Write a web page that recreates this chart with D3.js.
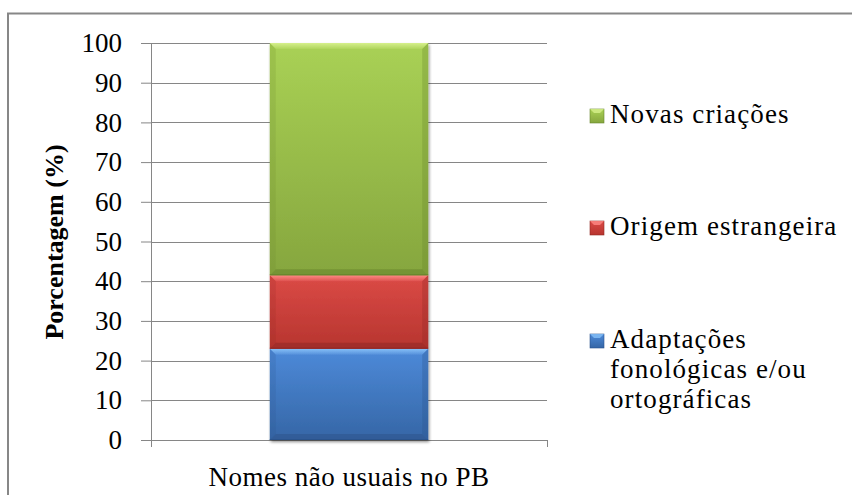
<!DOCTYPE html>
<html>
<head>
<meta charset="utf-8">
<script src="https://cdn.jsdelivr.net/npm/d3@7"></script>
<style>
  html, body { margin: 0; padding: 0; background: #fff; }
  svg { display: block; }
</style>
</head>
<body>
<svg id="chart" width="852" height="495"></svg>
<script>
// Stacked share of unusual names, by type of origin
const categories = ["Nomes não usuais no PB"];
const seriesKeys = ["adapt", "origem", "novas"];
const seriesValues = [23, 18.5, 58.5];
const legendLabels = [
  ["Adaptações", "fonológicas e/ou", "ortográficas"],
  ["Origem estrangeira"],
  ["Novas criações"]
];
const yTicks = [0, 10, 20, 30, 40, 50, 60, 70, 80, 90, 100];
const yTitle = "Porcentagem (%)";

const FONT = "'Liberation Serif', 'Times New Roman', serif";
const FS = 27;

// fill palettes per series
const palettes = {
  adapt:  { hi: "#86c0f7", top: "#4d8ad9", bot: "#3566a6", edge: "#2b538c" },
  origem: { hi: "#ff8a86", top: "#db4a46", bot: "#b7352f", edge: "#8f2824" },
  novas:  { hi: "#d6f08c", top: "#a9d155", bot: "#86a63e", edge: "#67852c" }
};

const svg = d3.select("#chart");
const defs = svg.append("defs");

// outer chart frame
svg.append("rect")
  .attr("x", 8).attr("y", 13.5)
  .attr("width", 900).attr("height", 600)
  .attr("fill", "#fff")
  .attr("stroke", "#878787").attr("stroke-width", 2);

const plot = { left: 151, right: 547, top: 43, bottom: 440 };

const x = d3.scaleBand()
  .domain(categories)
  .range([plot.left, plot.right])
  .paddingInner(0.6).paddingOuter(0.3);

const y = d3.scaleLinear().domain([0, 100]).range([plot.bottom, plot.top]);

const g = svg.append("g");

// y axis with outward ticks
const yAxis = d3.axisLeft(y)
  .tickValues(yTicks)
  .tickSize(10)
  .tickPadding(19)
  .tickFormat(d3.format("d"));

const yg = g.append("g")
  .attr("transform", `translate(${plot.left},0)`)
  .call(yAxis);
yg.select(".domain").attr("stroke", "#868686").attr("stroke-width", 1);
yg.selectAll(".tick line").attr("stroke", "#868686");
yg.selectAll(".tick text")
  .style("font-family", FONT)
  .style("font-size", FS + "px")
  .attr("fill", "#000");

// horizontal gridlines
g.append("g").selectAll("line")
  .data(yTicks.filter(d => d > 0))
  .join("line")
  .attr("x1", plot.left).attr("x2", plot.right)
  .attr("y1", d => Math.round(y(d)) + 0.5).attr("y2", d => Math.round(y(d)) + 0.5)
  .attr("stroke", "#868686").attr("stroke-width", 1);

// category axis
const xAxis = d3.axisBottom(x).tickSize(0).tickPadding(27);
const xg = g.append("g")
  .attr("transform", `translate(0,${plot.bottom})`)
  .call(xAxis);
xg.select(".domain").remove();
xg.selectAll(".tick text")
  .style("font-family", FONT)
  .style("font-size", FS + "px")
  .style("letter-spacing", "0.5px")
  .attr("fill", "#000");
xg.append("line")
  .attr("x1", plot.left).attr("x2", plot.right)
  .attr("y1", 0.5).attr("y2", 0.5)
  .attr("stroke", "#868686");
[plot.left, plot.right].forEach(px => {
  xg.append("line")
    .attr("x1", px + 0.5).attr("x2", px + 0.5)
    .attr("y1", 0).attr("y2", 7)
    .attr("stroke", "#868686");
});

// y axis title
svg.append("text")
  .attr("transform", `translate(63,242) rotate(-90)`)
  .attr("text-anchor", "middle")
  .style("font-family", FONT)
  .style("font-size", "26px")
  .style("font-weight", "bold")
  .attr("fill", "#000")
  .text(yTitle);

// stacked segments
const stackData = [Object.fromEntries(seriesKeys.map((k, i) => [k, seriesValues[i]]))];
const stacked = d3.stack().keys(seriesKeys)(stackData);

seriesKeys.forEach(k => {
  const p = palettes[k];
  const gr = defs.append("linearGradient")
    .attr("id", "grad-" + k).attr("x1", 0).attr("y1", 0).attr("x2", 0).attr("y2", 1);
  gr.append("stop").attr("offset", "0%").attr("stop-color", p.top);
  gr.append("stop").attr("offset", "100%").attr("stop-color", p.bot);
  const hg = defs.append("linearGradient")
    .attr("id", "hi-" + k).attr("x1", 0).attr("y1", 0).attr("x2", 0).attr("y2", 1);
  hg.append("stop").attr("offset", "0%").attr("stop-color", p.hi).attr("stop-opacity", 1);
  hg.append("stop").attr("offset", "100%").attr("stop-color", p.hi).attr("stop-opacity", 0.15);
});

// soft shadow under the bar
const shadow = defs.append("filter").attr("id", "shadow")
  .attr("x", "-10%").attr("y", "-10%").attr("width", "130%").attr("height", "130%");
shadow.append("feGaussianBlur").attr("in", "SourceAlpha").attr("stdDeviation", 1.5).attr("result", "b");
shadow.append("feOffset").attr("in", "b").attr("dx", 1).attr("dy", 1.5).attr("result", "o");
shadow.append("feComponentTransfer").attr("in", "o").attr("result", "s")
  .append("feFuncA").attr("type", "linear").attr("slope", 0.45);
const merge = shadow.append("feMerge");
merge.append("feMergeNode").attr("in", "s");
merge.append("feMergeNode").attr("in", "SourceGraphic");

const barsG = svg.append("g").attr("filter", "url(#shadow)");

stacked.forEach(layer => {
  const k = layer.key;
  const p = palettes[k];
  layer.forEach((d, i) => {
    const cat = categories[i];
    const x0 = x(cat), x1 = x(cat) + x.bandwidth();
    const yTop = y(d[1]), yBot = y(d[0]);
    const sg = barsG.append("g");
    sg.append("rect")
      .attr("x", x0).attr("y", yTop)
      .attr("width", x1 - x0).attr("height", yBot - yTop)
      .attr("fill", `url(#grad-${k})`);
    const b = 6;
    // top highlight bevel
    sg.append("polygon")
      .attr("points", [[x0, yTop], [x1, yTop], [x1 - b, yTop + b], [x0 + b, yTop + b]].join(" "))
      .attr("fill", `url(#hi-${k})`);
    // side bevels
    sg.append("polygon")
      .attr("points", [[x0, yTop], [x0 + b, yTop + b], [x0 + b, yBot - b], [x0, yBot]].join(" "))
      .attr("fill", p.edge).attr("fill-opacity", 0.18);
    sg.append("polygon")
      .attr("points", [[x1, yTop], [x1 - b, yTop + b], [x1 - b, yBot - b], [x1, yBot]].join(" "))
      .attr("fill", p.edge).attr("fill-opacity", 0.3);
    // bottom dark bevel
    sg.append("polygon")
      .attr("points", [[x0, yBot], [x1, yBot], [x1 - b, yBot - b], [x0 + b, yBot - b]].join(" "))
      .attr("fill", p.edge).attr("fill-opacity", 0.55);
    sg.append("line")
      .attr("x1", x0).attr("x2", x1).attr("y1", yBot - 0.5).attr("y2", yBot - 0.5)
      .attr("stroke", p.edge).attr("stroke-width", 1);
  });
});

// legend (top to bottom: reverse of stacking order)
const legendBaselines = [348, 235, 123];
const legend = svg.append("g");
seriesKeys.forEach((k, i) => {
  const p = palettes[k];
  const base = legendBaselines[i];
  const lg = legend.append("g");
  lg.append("rect")
    .attr("x", 590).attr("y", base - 14).attr("width", 14).attr("height", 14)
    .attr("fill", `url(#grad-${k})`)
    .attr("stroke", p.edge).attr("stroke-width", 0.6);
  lg.append("polygon")
    .attr("points", [[590, base - 14], [604, base - 14], [600, base - 10], [594, base - 10]].join(" "))
    .attr("fill", p.hi).attr("fill-opacity", 0.8);
  const t = lg.append("text")
    .attr("x", 610).attr("y", base)
    .style("font-family", FONT)
    .style("font-size", FS + "px")
    .style("letter-spacing", "1.1px")
    .attr("fill", "#000");
  legendLabels[i].forEach((line, j) => {
    t.append("tspan").attr("x", 610).attr("y", base + j * 30).text(line);
  });
});
</script>
</body>
</html>
